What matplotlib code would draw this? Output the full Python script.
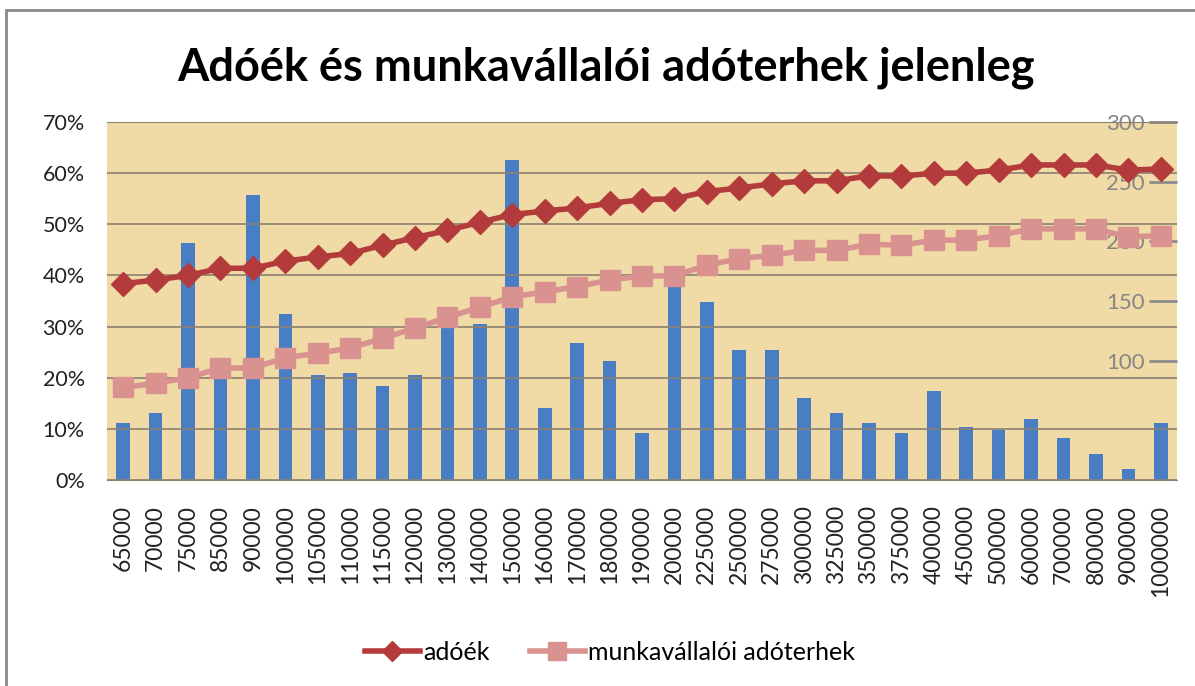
import matplotlib
matplotlib.use("Agg")
import matplotlib.pyplot as plt
from matplotlib.patches import Rectangle
from matplotlib.lines import Line2D

plt.rcParams['font.family'] = ['Lato', 'DejaVu Sans']

categories = ["65000", "70000", "75000", "85000", "90000", "100000", "105000", "110000",
              "115000", "120000", "130000", "140000", "150000", "160000", "170000", "180000",
              "190000", "200000", "225000", "250000", "275000", "300000", "325000", "350000",
              "375000", "400000", "450000", "500000", "600000", "700000", "800000", "900000",
              "1000000"]

bar_counts = [48, 56, 199, 87, 239, 139, 88, 90, 79, 88, 132, 131, 268, 60, 115, 100,
              39, 166, 149, 109, 109, 69, 56, 48, 39, 75, 44, 42, 51, 35, 22, 9, 48]

adoek = [38.4, 39.1, 40.0, 41.4, 41.4, 42.8, 43.6, 44.3, 45.9, 47.4, 48.8, 50.4, 51.9,
         52.6, 53.2, 54.1, 54.8, 55.0, 56.4, 57.1, 57.9, 58.5, 58.5, 59.5, 59.4, 60.0,
         60.0, 60.6, 61.6, 61.6, 61.6, 60.6, 60.8]

munkavallaloi = [18.1, 18.9, 20.0, 21.9, 21.9, 23.9, 24.8, 25.8, 27.7, 29.7, 31.8, 33.8,
                 35.8, 36.8, 37.8, 39.1, 39.9, 39.9, 42.0, 43.3, 43.9, 44.9, 44.9, 46.1,
                 45.9, 46.9, 46.9, 47.8, 49.1, 49.1, 49.1, 47.5, 47.8]

left_ticks = [0, 10, 20, 30, 40, 50, 60, 70]
left_tick_labels = ["0%", "10%", "20%", "30%", "40%", "50%", "60%", "70%"]
right_ticks = [100, 150, 200, 250, 300]

title = "Adóék és munkavállalói adóterhek jelenleg"
legend_labels = ["adóék", "munkavállalói adóterhek"]

W, H = 1195, 686
fig = plt.figure(figsize=(W / 100, H / 100), dpi=100)
fig.patch.set_facecolor("white")

# chart border
fig.add_artist(Rectangle((6 / W, -0.01), (W - 6) / W + 0.01, 1 - 10 / H + 0.01,
                         transform=fig.transFigure, fill=False,
                         edgecolor="#8a8a8a", linewidth=2))

left, right, top, bottom = 107 / W, 1177 / W, 1 - 122 / H, 1 - 480 / H
ax = fig.add_axes([left, bottom, right - left, top - bottom])
ax2 = ax.twinx()

x = list(range(len(categories)))

# bars on secondary axis
ax2.bar(x, bar_counts, width=0.42, color="#4A7EC4", zorder=2)
ax2.set_ylim(0, 300)
ax2.set_yticks(right_ticks)
ax2.tick_params(axis="y", direction="in", length=20, width=2, color="#8c8c8c",
                pad=-23, labelsize=16, labelcolor="#858585")
for lbl in ax2.get_yticklabels():
    lbl.set_horizontalalignment("right")
for s in ax2.spines.values():
    s.set_visible(False)

# put line axis on top
ax.set_zorder(ax2.get_zorder() + 1)
ax.patch.set_visible(False)
ax2.patch.set_visible(True)
ax2.patch.set_facecolor("#F0DBA7")

ax.plot(x, adoek, color="#B43B3B", linewidth=4, marker="D", markersize=12,
        markeredgecolor="#B43B3B", zorder=4)
ax.plot(x, munkavallaloi, color="#D9928F", linewidth=4, marker="s", markersize=15,
        markeredgecolor="#D9928F", zorder=3)

ax.set_xlim(-0.5, len(categories) - 0.5)
ax2.set_xlim(-0.5, len(categories) - 0.5)
ax.set_ylim(0, 70)
ax.set_yticks(left_ticks)
ax.set_yticklabels(left_tick_labels)
ax.tick_params(axis="y", length=0, pad=16, labelsize=15.5, labelcolor="#222222")
ax.set_xticks(x)
ax.set_xticklabels(categories, rotation=90)
ax.tick_params(axis="x", length=0, pad=18, labelsize=16.5, labelcolor="#222222")
ax.yaxis.grid(True, color="#8C8070", linewidth=1.2)
ax2.yaxis.grid(False)
for s in ax.spines.values():
    s.set_visible(False)
ax.spines["bottom"].set_visible(True)
ax.spines["bottom"].set_color("#8C8070")
ax.spines["top"].set_visible(True)
ax.spines["top"].set_color("#8C8070")

fig.text(606 / W, 1 - 68 / H, title, ha="center", va="center", fontsize=32.5,
         fontweight="bold", color="black")

handles = [Line2D([], [], color="#B43B3B", linewidth=4, marker="D", markersize=10),
           Line2D([], [], color="#D9928F", linewidth=4, marker="s", markersize=13)]
fig.legend(handles, legend_labels, loc="center", bbox_to_anchor=(610 / W, 1 - 652 / H),
           ncol=2, frameon=False, fontsize=18, handlelength=2.2, columnspacing=1.6,
           handletextpad=0.15)

fig.savefig("out.png", dpi=100, facecolor="white")
